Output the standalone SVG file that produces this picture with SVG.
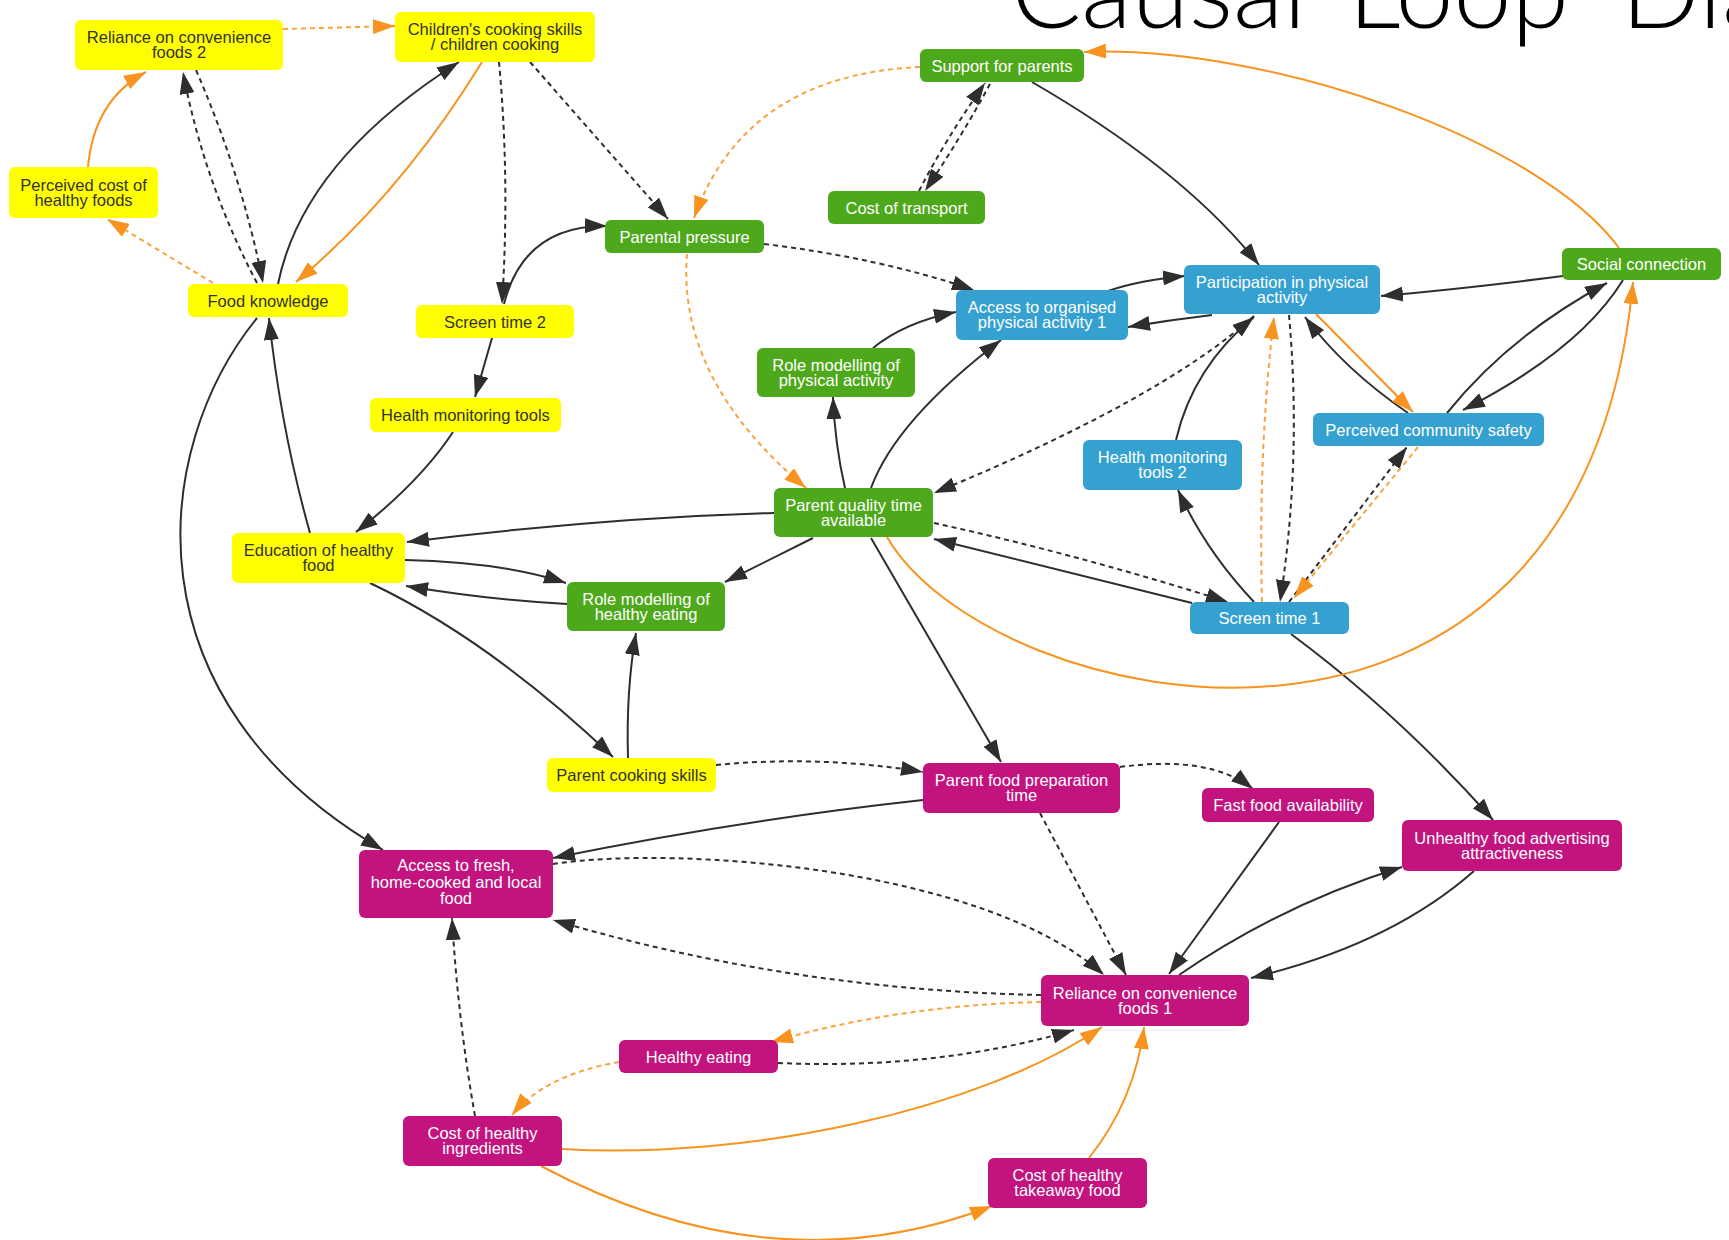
<svg xmlns="http://www.w3.org/2000/svg" width="1729" height="1240" viewBox="0 0 1729 1240">
  <defs>
    <marker id="ah-k" viewBox="0 0 22 15" markerWidth="22" markerHeight="15" refX="22" refY="7.5" orient="auto" markerUnits="userSpaceOnUse">
      <path d="M0,0 L22,7.5 L0,15 z" fill="#2e2e2e"/>
    </marker>
    <marker id="ah-o" viewBox="0 0 22 15" markerWidth="22" markerHeight="15" refX="22" refY="7.5" orient="auto" markerUnits="userSpaceOnUse">
      <path d="M0,0 L22,7.5 L0,15 z" fill="#f7931e"/>
    </marker>
  </defs>
  <style>
    .k, .kd, .o, .od { fill: none; stroke-width: 2; stroke-linecap: butt; }
    .k { stroke: #2e2e2e; marker-end: url(#ah-k); }
    .kd { stroke: #2e2e2e; stroke-dasharray: 5 4; marker-end: url(#ah-k); }
    .o { stroke: #f7931e; marker-end: url(#ah-o); }
    .od { stroke: #f9a33e; stroke-dasharray: 5 4; marker-end: url(#ah-o); }
    .node rect { rx: 6; ry: 6; }
    .y rect { fill: #ffff00; }
    .g rect { fill: #4ea81b; }
    .b rect { fill: #35a1d1; }
    .m rect { fill: #c2137f; }
    .node text { font-family: "Liberation Sans", Arial, sans-serif; font-size: 16.5px; text-anchor: middle; }
    .y text { fill: #333333; }
    .g text, .b text, .m text { fill: #ffffff; }
    .title { font-family: Lato, "Open Sans", sans-serif; font-weight: 300; font-size: 104px; fill: #000000; }
  </style>

  <rect width="1729" height="1240" fill="#ffffff"/>

  <text class="title" y="28"><tspan x="1011">Causal</tspan><tspan x="1348">Loop</tspan><tspan x="1621">Dia</tspan></text>

  <g id="connectors">
    <!-- solid black links -->
    <path class="k" d="M278,284 Q303,161 459,62"/>
    <path class="k" d="M504,304 Q524,225 607,226"/>
    <path class="k" d="M492,338 L475,397"/>
    <path class="k" d="M453,432 Q420,482 356,532"/>
    <path class="k" d="M310,533 Q281,430 269,318"/>
    <path class="k" d="M257,318 C150,450 125,700 383,850"/>
    <path class="k" d="M774,513 Q600,518 407,542"/>
    <path class="k" d="M405,560 Q502,562 566,583"/>
    <path class="k" d="M567,604 Q490,600 406,586"/>
    <path class="k" d="M370,583 Q490,640 613,757"/>
    <path class="k" d="M628,758 Q626,690 636,633"/>
    <path class="k" d="M813,538 L725,582"/>
    <path class="k" d="M1032,82 Q1184,170 1259,265"/>
    <path class="k" d="M1563,276 Q1470,288 1381,296"/>
    <path class="k" d="M1108,291 Q1140,280 1185,276"/>
    <path class="k" d="M1212,315 Q1170,320 1128,327"/>
    <path class="k" d="M873,348 Q905,322 956,312"/>
    <path class="k" d="M845,488 Q835,445 833,397"/>
    <path class="k" d="M871,488 Q896,420 1001,340"/>
    <path class="k" d="M1192,603 L934,539"/>
    <path class="k" d="M871,538 L1001,762"/>
    <path class="k" d="M1176,440 Q1193,367 1254,317"/>
    <path class="k" d="M1254,602 Q1205,550 1178,490"/>
    <path class="k" d="M1408,413 Q1345,370 1305,317"/>
    <path class="k" d="M1447,413 Q1510,335 1607,283"/>
    <path class="k" d="M1623,280 Q1580,350 1463,410"/>
    <path class="k" d="M1291,634 Q1400,715 1493,820"/>
    <path class="k" d="M923,800 Q740,820 553,858"/>
    <path class="k" d="M1279,822 L1169,974"/>
    <path class="k" d="M1179,975 Q1280,905 1402,867"/>
    <path class="k" d="M1474,871 Q1390,945 1251,978"/>

    <!-- dashed black links -->
    <path class="kd" d="M257,283 Q204,183 183,72"/>
    <path class="kd" d="M196,70 Q242,176 263,283"/>
    <path class="kd" d="M499,62 Q510,180 502,304"/>
    <path class="kd" d="M530,62 L668,219"/>
    <path class="kd" d="M764,244 Q880,258 974,290"/>
    <path class="kd" d="M919,191 Q945,140 985,83"/>
    <path class="kd" d="M990,84 Q962,136 925,191"/>
    <path class="kd" d="M1254,316 Q1160,400 934,493"/>
    <path class="kd" d="M934,523 Q1080,555 1228,602"/>
    <path class="kd" d="M1289,315 Q1302,460 1280,602"/>
    <path class="kd" d="M1289,602 L1407,447"/>
    <path class="kd" d="M716,765 Q820,755 923,772"/>
    <path class="kd" d="M1120,767 Q1210,755 1253,789"/>
    <path class="kd" d="M553,864 C680,845 985,868 1104,975"/>
    <path class="kd" d="M1041,995 Q790,990 553,920"/>
    <path class="kd" d="M1040,813 L1126,975"/>
    <path class="kd" d="M778,1063 Q936,1070 1074,1030"/>
    <path class="kd" d="M475,1116 Q458,1020 452,918"/>

    <!-- solid orange links -->
    <path class="o" d="M88,167 Q94,100 146,72"/>
    <path class="o" d="M482,62 Q401,194 296,282"/>
    <path class="o" d="M1619,248 C1540,140 1270,45 1084,52"/>
    <path class="o" d="M887,537 C990,715 1580,840 1633,282"/>
    <path class="o" d="M1316,314 L1413,412"/>
    <path class="o" d="M562,1149 C750,1160 980,1110 1102,1027"/>
    <path class="o" d="M541,1166 Q774,1290 992,1206"/>
    <path class="o" d="M1089,1158 Q1135,1100 1144,1027"/>

    <!-- dashed orange links -->
    <path class="od" d="M283,29 L395,26"/>
    <path class="od" d="M213,283 L107,219"/>
    <path class="od" d="M687,254 Q677,380 806,488"/>
    <path class="od" d="M920,67 Q745,75 694,218"/>
    <path class="od" d="M1262,602 Q1258,450 1274,317"/>
    <path class="od" d="M1418,447 L1294,598"/>
    <path class="od" d="M1041,1002 Q900,1005 771,1042"/>
    <path class="od" d="M619,1062 Q545,1075 512,1115"/>
  </g>

  <!-- food environment (yellow) -->
  <g id="reliance-convenience-2" class="node y"><rect x="75" y="20" width="208" height="50"/><text x="179" y="43">Reliance on convenience</text><text x="179" y="58">foods 2</text></g>
  <g id="children-cooking" class="node y"><rect x="395" y="12" width="200" height="50"/><text x="495" y="35">Children's cooking skills</text><text x="495" y="50">/ children cooking</text></g>
  <g id="perceived-cost" class="node y"><rect x="9" y="167" width="149" height="51"/><text x="83.5" y="190.5">Perceived cost of</text><text x="83.5" y="205.5">healthy foods</text></g>
  <g id="food-knowledge" class="node y"><rect x="188" y="284" width="160" height="33"/><text x="268" y="306.5">Food knowledge</text></g>
  <g id="screen-time-2" class="node y"><rect x="416" y="305" width="158" height="33"/><text x="495" y="327.5">Screen time 2</text></g>
  <g id="health-monitoring" class="node y"><rect x="370" y="398" width="191" height="34"/><text x="465.5" y="421">Health monitoring tools</text></g>
  <g id="education-healthy-food" class="node y"><rect x="232" y="533" width="173" height="50"/><text x="318.5" y="556">Education of healthy</text><text x="318.5" y="571">food</text></g>
  <g id="parent-cooking-skills" class="node y"><rect x="547" y="758" width="169" height="34"/><text x="631.5" y="781">Parent cooking skills</text></g>

  <!-- family & community (green) -->
  <g id="support-parents" class="node g"><rect x="920" y="49" width="164" height="33"/><text x="1002" y="71.5">Support for parents</text></g>
  <g id="cost-transport" class="node g"><rect x="828" y="191" width="157" height="33"/><text x="906.5" y="213.5">Cost of transport</text></g>
  <g id="parental-pressure" class="node g"><rect x="605" y="220" width="159" height="33"/><text x="684.5" y="242.5">Parental pressure</text></g>
  <g id="social-connection" class="node g"><rect x="1562" y="248" width="159" height="32"/><text x="1641.5" y="270">Social connection</text></g>
  <g id="role-modelling-pa" class="node g"><rect x="757" y="348" width="158" height="49"/><text x="836" y="370.5">Role modelling of</text><text x="836" y="385.5">physical activity</text></g>
  <g id="parent-quality-time" class="node g"><rect x="774" y="488" width="159" height="49"/><text x="853.5" y="510.5">Parent quality time</text><text x="853.5" y="525.5">available</text></g>
  <g id="role-modelling-eating" class="node g"><rect x="567" y="582" width="158" height="49"/><text x="646" y="604.5">Role modelling of</text><text x="646" y="619.5">healthy eating</text></g>

  <!-- physical activity (blue) -->
  <g id="access-organised-pa" class="node b"><rect x="956" y="290" width="172" height="50"/><text x="1042" y="313">Access to organised</text><text x="1042" y="328">physical activity 1</text></g>
  <g id="participation-pa" class="node b"><rect x="1184" y="265" width="196" height="49"/><text x="1282" y="287.5">Participation in physical</text><text x="1282" y="302.5">activity</text></g>
  <g id="community-safety" class="node b"><rect x="1313" y="413" width="231" height="33"/><text x="1428.5" y="435.5">Perceived community safety</text></g>
  <g id="health-monitoring-2" class="node b"><rect x="1083" y="440" width="159" height="50"/><text x="1162.5" y="463">Health monitoring</text><text x="1162.5" y="478">tools 2</text></g>
  <g id="screen-time-1" class="node b"><rect x="1190" y="602" width="159" height="32"/><text x="1269.5" y="624">Screen time 1</text></g>

  <!-- food access (magenta) -->
  <g id="food-prep-time" class="node m"><rect x="923" y="763" width="197" height="50"/><text x="1021.5" y="786">Parent food preparation</text><text x="1021.5" y="801">time</text></g>
  <g id="fast-food" class="node m"><rect x="1202" y="788" width="172" height="34"/><text x="1288" y="811">Fast food availability</text></g>
  <g id="food-advertising" class="node m"><rect x="1402" y="820" width="220" height="51"/><text x="1512" y="843.5">Unhealthy food advertising</text><text x="1512" y="858.5">attractiveness</text></g>
  <g id="access-fresh-food" class="node m"><rect x="359" y="850" width="194" height="68"/><text x="456" y="871">Access to fresh,</text><text x="456" y="887.5">home-cooked and local</text><text x="456" y="904">food</text></g>
  <g id="reliance-convenience-1" class="node m"><rect x="1041" y="975" width="208" height="51"/><text x="1145" y="998.5">Reliance on convenience</text><text x="1145" y="1013.5">foods 1</text></g>
  <g id="healthy-eating" class="node m"><rect x="619" y="1040" width="159" height="33"/><text x="698.5" y="1062.5">Healthy eating</text></g>
  <g id="cost-ingredients" class="node m"><rect x="403" y="1116" width="159" height="50"/><text x="482.5" y="1139">Cost of healthy</text><text x="482.5" y="1154">ingredients</text></g>
  <g id="cost-takeaway" class="node m"><rect x="988" y="1158" width="159" height="50"/><text x="1067.5" y="1181">Cost of healthy</text><text x="1067.5" y="1196">takeaway food</text></g>
</svg>
